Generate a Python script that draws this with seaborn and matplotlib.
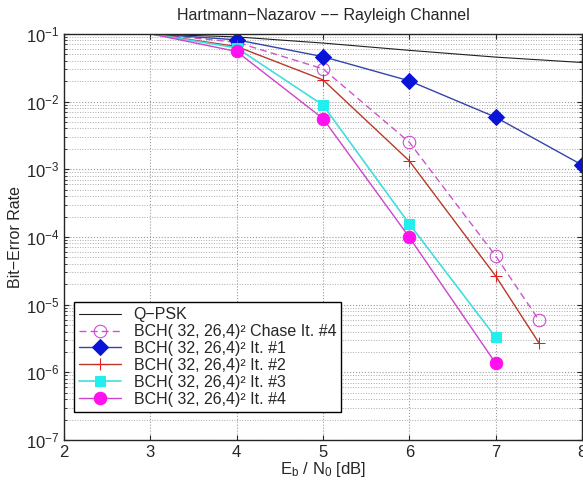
import numpy as np
import seaborn as sns
import matplotlib.pyplot as plt

# datos
snr_qpsk = [2, 3, 4, 5, 6, 7, 8]
ber_qpsk = [0.115, 0.099, 0.090, 0.073, 0.057, 0.0453, 0.0377]

snr_chase = [3, 4, 5, 6, 7, 7.5]
ber_chase = [0.1, 0.075, 0.0304, 0.00251, 5.26e-5, 5.96e-6]

snr_it1 = [3, 4, 5, 6, 7, 8]
ber_it1 = [0.1, 0.0815, 0.046, 0.0202, 0.00587, 0.00116]

snr_it2 = [3, 4, 5, 6, 7, 7.5]
ber_it2 = [0.1, 0.065, 0.0209, 0.00133, 2.66e-5, 2.75e-6]

snr_it3 = [3, 4, 5, 6, 7]
ber_it3 = [0.1, 0.062, 0.00885, 1.56e-4, 3.31e-6]

snr_it4 = [3, 4, 5, 6, 7]
ber_it4 = [0.1, 0.0548, 0.0056, 9.9e-5, 1.37e-6]

sns.set_style("ticks")
plt.rcParams["font.family"] = ["Liberation Sans", "DejaVu Sans"]
plt.rcParams["mathtext.default"] = "regular"

fig = plt.figure(figsize=(5.83, 4.83), dpi=100)
ax = fig.add_axes([0.11, 0.089, 0.888, 0.841])

def sin_primero(x):
    # el primer punto (3 dB) no lleva marcador
    return list(range(1, len(x)))

sns.lineplot(x=snr_qpsk, y=ber_qpsk, ax=ax, color="#202020", lw=0.8,
             label="Q\u2212PSK")
sns.lineplot(x=snr_chase, y=ber_chase, ax=ax, color="#cc55cc", lw=1.0,
             linestyle=(0, (5, 3)), marker="o", markersize=9,
             markerfacecolor="none", markeredgecolor="#cc44cc",
             markevery=sin_primero(snr_chase),
             label="BCH( 32, 26,4)\u00b2 Chase It. #4")
sns.lineplot(x=snr_it1, y=ber_it1, ax=ax, color="#3344aa", lw=1.0,
             marker="D", markersize=8, markerfacecolor="#0a14d8",
             markeredgecolor="#0a14d8", markevery=sin_primero(snr_it1),
             label="BCH( 32, 26,4)\u00b2 It. #1")
sns.lineplot(x=snr_it2, y=ber_it2, ax=ax, color="#b83a28", lw=1.0,
             marker="+", markersize=9, markeredgecolor="#dd2020",
             markevery=sin_primero(snr_it2),
             label="BCH( 32, 26,4)\u00b2 It. #2")
sns.lineplot(x=snr_it3, y=ber_it3, ax=ax, color="#44dddd", lw=1.2,
             marker="s", markersize=7, markerfacecolor="#22eeee",
             markeredgecolor="#22eeee", markevery=sin_primero(snr_it3),
             label="BCH( 32, 26,4)\u00b2 It. #3")
sns.lineplot(x=snr_it4, y=ber_it4, ax=ax, color="#cc44cc", lw=1.0,
             marker="o", markersize=9, markerfacecolor="#ff10ee",
             markeredgecolor="#ff10ee", markevery=sin_primero(snr_it4),
             label="BCH( 32, 26,4)\u00b2 It. #4")

ax.set_yscale("log")
ax.set_xlim(2, 8)
ax.set_ylim(1e-7, 1e-1)
ax.set_xticks([2, 3, 4, 5, 6, 7, 8])
ax.set_yticks([1e-7, 1e-6, 1e-5, 1e-4, 1e-3, 1e-2, 1e-1])
ax.tick_params(which="both", direction="in", top=True, right=True, labelsize=12)
ax.grid(True, which="major", color="#999999", linestyle=":", lw=0.8)
ax.grid(True, which="minor", axis="y", color="#aaaaaa", linestyle=":", lw=0.7)
for s in ax.spines.values():
    s.set_linewidth(1.0)

ax.set_title("Hartmann\u2212Nazarov \u2212\u2212 Rayleigh Channel", fontsize=11.5, pad=10)
ax.set_xlabel("E$_b$ / N$_0$ [dB]", fontsize=12, labelpad=0)
ax.set_ylabel("Bit\u2212Error Rate", fontsize=11.5, labelpad=2)

leg = ax.legend(loc="lower left", bbox_to_anchor=(0.02, 0.07), fontsize=11.5,
                frameon=True, fancybox=False, edgecolor="black",
                framealpha=1, borderpad=0.3, labelspacing=0.12,
                handlelength=2.6, borderaxespad=0)
leg.get_frame().set_linewidth(1.0)

plt.savefig("out.png", dpi=100)
